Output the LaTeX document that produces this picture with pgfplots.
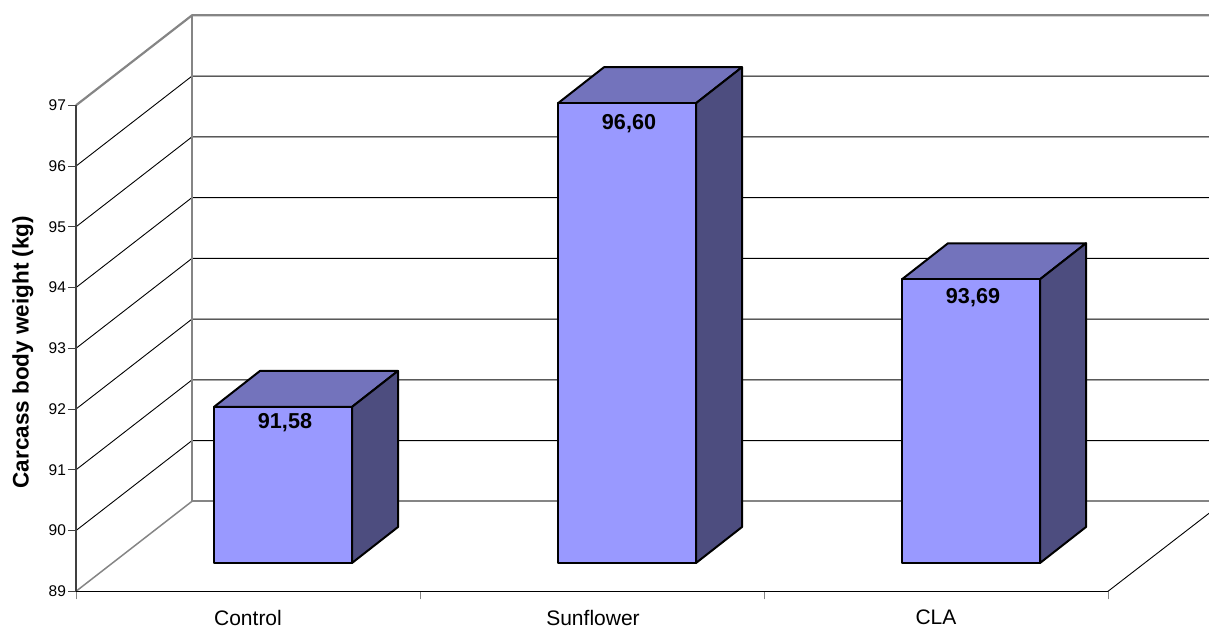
\documentclass[border=0pt]{standalone}
\usepackage{fontspec}
\setmainfont{Liberation Sans}
\usepackage{pgfplots}
\pgfplotsset{compat=1.18}

\definecolor{barfront}{HTML}{9999FF}
\definecolor{bartop}{HTML}{7373BC}
\definecolor{barside}{HTML}{4D4D7F}
\definecolor{wallgray}{HTML}{858585}
\definecolor{axisdark}{HTML}{404040}

% Depth of the chart box and of the bars, in axis units
\def\wallx{116}
\def\wally{1.4815}
\def\floory{0.466}
\def\depthx{46}
\def\depthy{0.5926}
\def\barw{138}
\def\barscale{0.9959}

% One bar as three faces: left edge in x, value in y
\newcommand{\cuboid}[2]{%
  \pgfmathsetmacro\ya{89+\floory}%
  \pgfmathsetmacro\yb{89+\floory+(#2-89)*\barscale}%
  \pgfmathsetmacro\yc{\ya+\depthy}%
  \pgfmathsetmacro\yd{\yb+\depthy}%
  \pgfmathsetmacro\xa{#1}%
  \pgfmathsetmacro\xb{#1+\barw}%
  \pgfmathsetmacro\xc{#1+\depthx}%
  \pgfmathsetmacro\xd{#1+\barw+\depthx}%
  \edef\temp{%
    \noexpand\addplot[fill=bartop,draw=black,line width=2pt,line join=round] coordinates
      {(\xa,\yb)(\xc,\yd)(\xd,\yd)(\xb,\yb)} -- cycle;
    \noexpand\addplot[fill=barside,draw=black,line width=2pt,line join=round] coordinates
      {(\xb,\ya)(\xd,\yc)(\xd,\yd)(\xb,\yb)} -- cycle;
    \noexpand\addplot[fill=barfront,draw=black,line width=2pt,line join=round] coordinates
      {(\xa,\ya)(\xb,\ya)(\xb,\yb)(\xa,\yb)} -- cycle;
  }\temp
}

% Value printed on a bar: centre x, value, vertical nudge, text
\newcommand{\barlabel}[4]{%
  \addplot[draw=none] coordinates {(#1,#2)}
    node[anchor=base,yshift=#3,font=\fontsize{21.6}{24}\selectfont\bfseries,text=black,inner sep=0pt] {#4};
}

% Wall grid line at one axis value, running across the side wall and the back wall
\newcommand{\gridline}[1]{%
  \pgfmathsetmacro\yw{#1+\wally}%
  \edef\temp{%
    \noexpand\addplot[black,line width=0.9pt] coordinates {(76,#1)(192,\yw)(1209,\yw)};
  }\temp
}

\begin{document}
\begin{tikzpicture}[x=1pt,y=1pt]
\useasboundingbox (0,0) rectangle (1209,630);
\begin{axis}[
  at={(76pt,38.7pt)}, anchor=south west,
  scale only axis, width=1133pt, height=576.3pt,
  xmin=76, xmax=1209, ymin=89, ymax=98.487,
  clip=false, no markers,
  axis x line*=bottom, axis y line*=left,
  axis line style={draw=none},
  tick align=outside, major tick length=8pt,
  xtick={76,420,764,1108}, xticklabels={},
  x tick style={wallgray,line width=1pt},
  y tick style={axisdark,line width=1pt},
  ytick={89,...,97},
  tick label style={font=\fontsize{15.5}{17}\selectfont},
  yticklabel style={xshift=1.5pt},
  /pgf/number format/assume math mode=true,
  extra x ticks={248,593,936},
  extra x tick labels={Control,Sunflower,CLA},
  extra x tick style={major tick length=0pt,
    tick label style={font=\fontsize{21}{24}\selectfont,yshift=-15pt}},
  ylabel={Carcass body weight (kg)},
  every axis y label/.style={at={(axis description cs:-0.0468,0.415)},rotate=90,anchor=center,
    font=\fontsize{22.5}{26}\selectfont\bfseries},
]
% Box of the chart: grid, walls and floor
\gridline{90}\gridline{91}\gridline{92}\gridline{93}\gridline{94}\gridline{95}\gridline{96}
\addplot[wallgray,line width=1.5pt] coordinates {(76,89)(192,90.4815)};
\addplot[wallgray,line width=2.2pt] coordinates {(192,90.4815)(1209,90.4815)};
\addplot[wallgray,line width=2.2pt] coordinates {(76,97)(192,98.4815)(1209,98.4815)};
\addplot[wallgray,line width=2.2pt] coordinates {(192,90.4815)(192,98.4815)};
\addplot[black,line width=0.9pt] coordinates {(1108,89)(1209,90.2840)};
\addplot[black,line width=1pt] coordinates {(76,89)(1108,89)};
\addplot[axisdark,line width=1.3pt] coordinates {(76,89)(76,97)};
% Bars
\cuboid{214}{91.58}
\cuboid{558}{96.60}
\cuboid{902}{93.69}
\barlabel{285}{91.58}{5.6pt}{91,58}
\barlabel{629}{96.60}{0.6pt}{96,60}
\barlabel{973}{93.69}{2.4pt}{93,69}
\end{axis}
\end{tikzpicture}
\end{document}
